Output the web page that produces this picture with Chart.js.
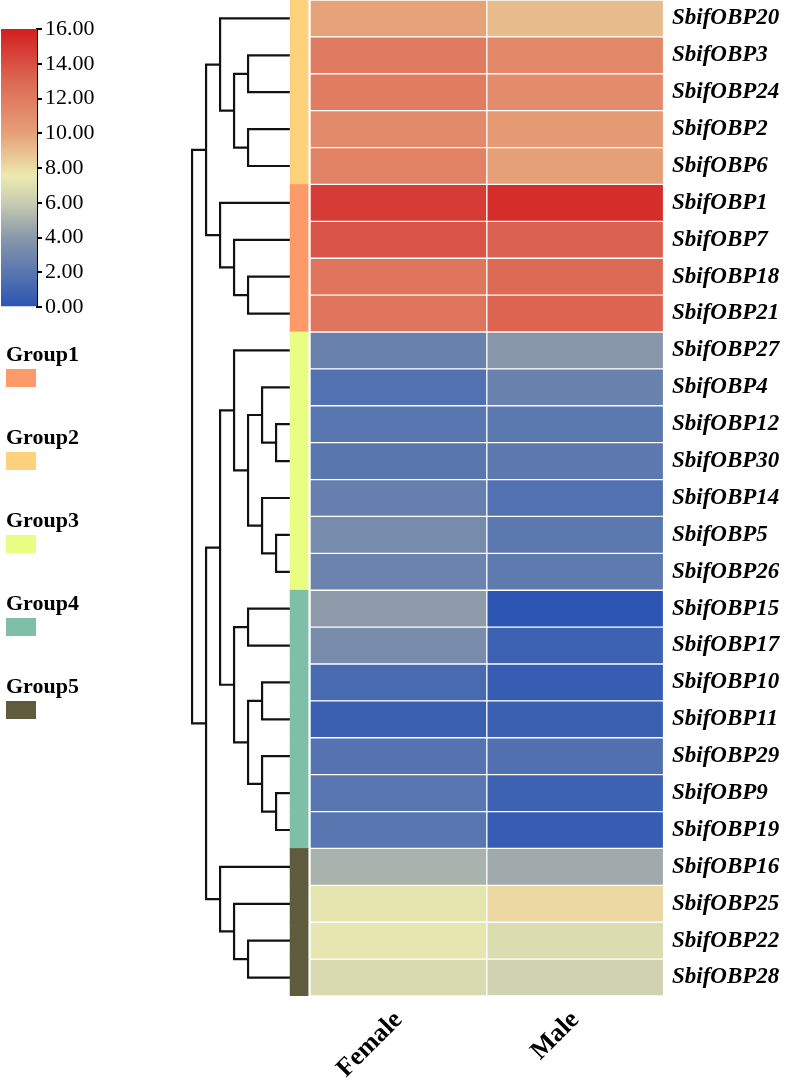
<!DOCTYPE html>
<html>
<head>
<meta charset="utf-8">
<script src="https://cdn.jsdelivr.net/npm/chart.js@4.4.1/dist/chart.umd.min.js"></script>
<style>
  body { margin: 0; background: #fff; width: 786px; height: 1080px; position: relative; overflow: hidden; font-family: "Liberation Serif", serif; }
  #main { position: absolute; left: 0; top: 0; width: 786px; height: 1080px; }
  #bar { position: absolute; left: 0; top: 0; width: 130px; height: 330px; }
  .grp { position: absolute; left: 6px; font-weight: bold; font-size: 22px; line-height: 22px; color: #000; }
  .sw { position: absolute; left: 6px; width: 30px; height: 18px; }
</style>
</head>
<body>
<div id="main"><canvas id="heat"></canvas></div>
<div id="bar"><canvas id="scale"></canvas></div>
<div id="groups"></div>
<script>
// rows, top to bottom
const genes = ['SbifOBP20', 'SbifOBP3', 'SbifOBP24', 'SbifOBP2', 'SbifOBP6',
  'SbifOBP1', 'SbifOBP7', 'SbifOBP18', 'SbifOBP21',
  'SbifOBP27', 'SbifOBP4', 'SbifOBP12', 'SbifOBP30', 'SbifOBP14', 'SbifOBP5', 'SbifOBP26',
  'SbifOBP15', 'SbifOBP17', 'SbifOBP10', 'SbifOBP11', 'SbifOBP29', 'SbifOBP9', 'SbifOBP19',
  'SbifOBP16', 'SbifOBP25', 'SbifOBP22', 'SbifOBP28'];
const columns = ['Female', 'Male'];
const female = [9.9, 12.0, 11.9, 11.2, 11.6,
  14.8, 13.8, 12.3, 12.3,
  2.65, 1.7, 2.0, 2.05, 2.55, 3.25, 2.8,
  4.1, 3.3, 1.3, 0.7, 1.8, 2.0, 2.0,
  5.0, 7.25, 7.3, 6.7];
const male = [9.05, 11.3, 11.0, 10.3, 10.0,
  15.4, 13.25, 12.9, 13.15,
  3.9, 2.65, 2.15, 2.2, 1.7, 2.15, 2.25,
  0.05, 0.8, 0.55, 0.7, 1.65, 0.8, 0.55,
  4.7, 8.1, 6.8, 6.35];
const groupOfRow = [2, 2, 2, 2, 2, 1, 1, 1, 1, 3, 3, 3, 3, 3, 3, 3, 4, 4, 4, 4, 4, 4, 4, 5, 5, 5, 5];
const groupNames = ['Group1', 'Group2', 'Group3', 'Group4', 'Group5'];
const groupColors = ['#fe9a6a', '#fed17c', '#e9fd82', '#7fbfa8', '#5f5b3d'];
const colorTicks = [0, 2, 4, 6, 8, 10, 12, 14, 16];
// colour map stops [value, r, g, b]
const cmap = [[0, 43, 84, 180], [2, 88, 118, 175], [4, 138, 152, 170], [6, 200, 204, 176],
  [7.5, 236, 234, 176], [10, 230, 160, 120], [13, 220, 104, 84], [16, 210, 30, 32]];
// dendrogram merges: [a, b, level]; leaves are row indices, merge k becomes node 27 + k
const merges = [[1, 2, 3], [3, 4, 3], [27, 28, 4], [0, 29, 5],
  [7, 8, 3], [6, 31, 4], [5, 32, 5], [30, 33, 6],
  [11, 12, 1], [10, 35, 2], [14, 15, 1], [13, 37, 2], [36, 38, 3], [9, 39, 4],
  [16, 17, 3], [18, 19, 2], [21, 22, 1], [20, 43, 2], [42, 44, 3], [41, 45, 4], [40, 46, 5],
  [25, 26, 3], [24, 48, 4], [23, 49, 5], [47, 50, 6], [34, 51, 7]];

function colorFor(v) {
  for (let i = 1; i < cmap.length; i++) {
    const a = cmap[i - 1], b = cmap[i];
    if (v <= b[0] || i === cmap.length - 1) {
      const t = Math.max(0, Math.min(1, (v - a[0]) / (b[0] - a[0])));
      const c = [1, 2, 3].map(k => Math.round(a[k] + (b[k] - a[k]) * t));
      return 'rgb(' + c.join(',') + ')';
    }
  }
}

// x layout in column units
const xMin = -1.754, xMax = 2.025;
const leafX = -0.113, levelStep = 0.0792, groupEnd = -0.011;

const nodeY = genes.map((g, i) => i);
const nodeH = genes.map(() => 0);
const dendro = [];
merges.forEach(([a, b, h]) => {
  const hx = lv => leafX - lv * levelStep;
  dendro.push({
    type: 'line',
    data: [{x: hx(nodeH[a]), y: nodeY[a]}, {x: hx(h), y: nodeY[a]}, {x: hx(h), y: nodeY[b]}, {x: hx(nodeH[b]), y: nodeY[b]}],
    borderColor: '#111', borderWidth: 2.2, pointRadius: 0, fill: false, tension: 0
  });
  nodeY.push((nodeY[a] + nodeY[b]) / 2);
  nodeH.push(h);
});

const cellStyle = {borderColor: '#fff', borderWidth: 1, borderSkipped: false, grouped: false, categoryPercentage: 1, barPercentage: 1};

new Chart(document.getElementById('heat'), {
  type: 'bar',
  data: {
    datasets: [
      Object.assign({data: genes.map((g, i) => ({y: i, x: [0, 1]})), backgroundColor: female.map(colorFor)}, cellStyle),
      Object.assign({data: genes.map((g, i) => ({y: i, x: [1, 2]})), backgroundColor: male.map(colorFor)}, cellStyle),
      {data: genes.map((g, i) => ({y: i, x: [leafX, groupEnd]})), backgroundColor: groupOfRow.map(g => groupColors[g - 1]),
        borderWidth: 0, grouped: false, categoryPercentage: 1, barPercentage: 1},
      ...dendro
    ]
  },
  options: {
    indexAxis: 'y',
    responsive: true,
    maintainAspectRatio: false,
    animation: false,
    events: [],
    layout: {padding: 0},
    plugins: {legend: {display: false}, tooltip: {enabled: false}},
    scales: {
      x: {
        type: 'linear', min: xMin, max: xMax, offset: false,
        grid: {display: false, drawTicks: false, offset: false}, border: {display: false},
        afterBuildTicks: s => { s.ticks = columns.map((c, i) => ({value: i + 0.5})); },
        afterFit: s => { s.height = 84; s.paddingLeft = 0; s.paddingRight = 0; },
        ticks: {
          callback: v => columns[Math.floor(v)], autoSkip: false, minRotation: 45, maxRotation: 45,
          font: {family: 'Liberation Serif', weight: 'bold', size: 26}, color: '#000', padding: 9
        }
      },
      y: {
        type: 'linear', reverse: true, min: -0.5, max: 26.5, position: 'right', offset: false,
        grid: {display: false, drawTicks: false, offset: false}, border: {display: false},
        afterBuildTicks: s => { s.ticks = genes.map((g, i) => ({value: i})); },
        afterFit: s => { s.width = 118; s.paddingTop = 0; s.paddingBottom = 0; },
        ticks: {
          callback: v => genes[v], autoSkip: false,
          font: {family: 'Liberation Serif', weight: 'bold', style: 'italic', size: 23}, color: '#000', padding: 4
        }
      }
    }
  }
});

new Chart(document.getElementById('scale'), {
  type: 'bar',
  data: {
    labels: [''],
    datasets: [{
      data: [[0, 16]],
      borderWidth: 0, categoryPercentage: 1, barPercentage: 1,
      backgroundColor: ctx => {
        const chart = ctx.chart;
        const ys = chart.scales.y;
        if (!chart.chartArea || !ys) return '#ccc';
        const p0 = ys.getPixelForValue(0), p1 = ys.getPixelForValue(16);
        const g = chart.ctx.createLinearGradient(0, p0, 0, p1);
        cmap.forEach(s => g.addColorStop(s[0] / 16, 'rgb(' + s[1] + ',' + s[2] + ',' + s[3] + ')'));
        return g;
      }
    }]
  },
  options: {
    responsive: true,
    maintainAspectRatio: false,
    animation: false,
    events: [],
    layout: {padding: {left: 1, top: 29, bottom: 23, right: 0}},
    plugins: {legend: {display: false}, tooltip: {enabled: false}},
    scales: {
      x: {display: false},
      y: {
        position: 'right', min: 0, max: 16,
        afterBuildTicks: s => { s.ticks = colorTicks.map(v => ({value: v})); },
        afterFit: s => { s.width = 93; },
        ticks: {callback: v => v.toFixed(2), font: {family: 'Liberation Serif', size: 22}, color: '#000', padding: 3},
        grid: {drawOnChartArea: false, drawTicks: true, tickLength: 5, color: '#000', lineWidth: 2},
        border: {display: true, color: '#000', width: 2}
      }
    }
  }
});

// group legend
const box = document.getElementById('groups');
groupNames.forEach((name, i) => {
  const t = document.createElement('div');
  t.className = 'grp';
  t.style.top = (343 + 83 * i) + 'px';
  t.textContent = name;
  box.appendChild(t);
  const s = document.createElement('div');
  s.className = 'sw';
  s.style.top = (369 + 83 * i) + 'px';
  s.style.background = groupColors[i];
  box.appendChild(s);
});
</script>
</body>
</html>
